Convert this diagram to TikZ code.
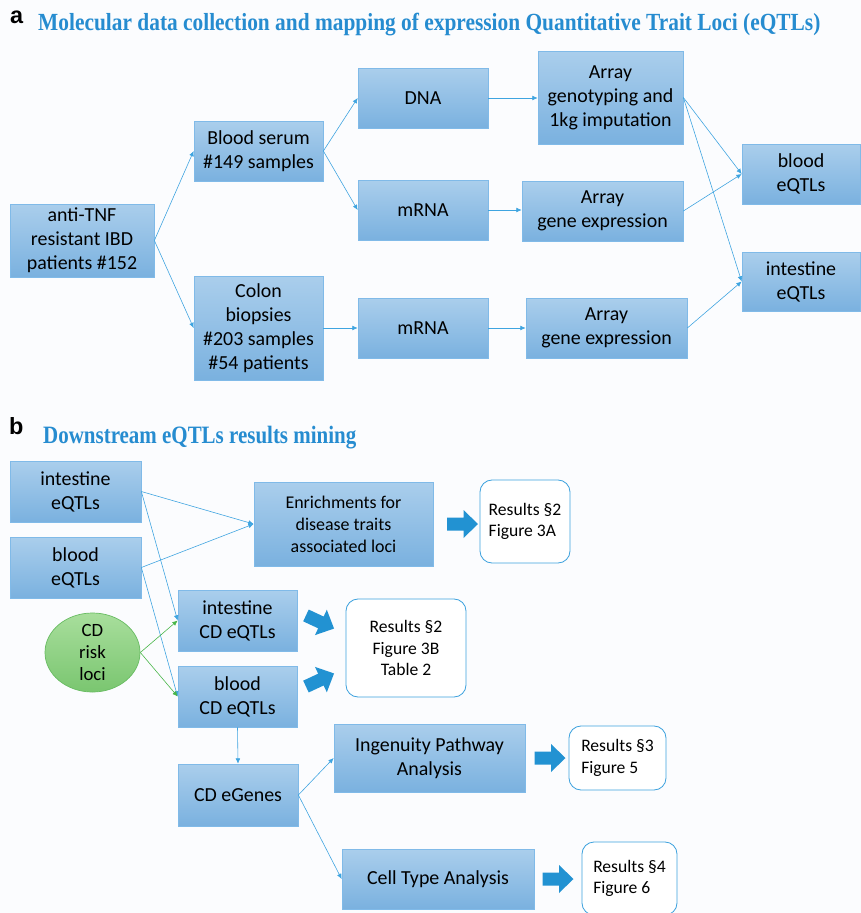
\documentclass[tikz,border=0pt]{standalone}
\usepackage{fontspec}
\setmainfont{Carlito}
\newfontfamily\titlefont{Liberation Serif}
\newfontfamily\labelfont{Liberation Sans}
\usetikzlibrary{arrows.meta,shapes.geometric,positioning}

\definecolor{paper}{RGB}{251,252,254}
\definecolor{boxtop}{RGB}{170,206,236}
\definecolor{boxbot}{RGB}{122,177,223}
\definecolor{boxline}{RGB}{128,186,232}
\definecolor{linkblue}{RGB}{62,164,224}
\definecolor{fatblue}{RGB}{34,146,210}
\definecolor{titleblue}{RGB}{38,140,208}
\definecolor{resline}{RGB}{62,162,222}
\definecolor{locitop}{RGB}{168,222,156}
\definecolor{locibot}{RGB}{122,198,112}
\definecolor{lociline}{RGB}{104,188,98}
\definecolor{linkgreen}{RGB}{72,182,72}

\tikzset{
  box/.style={draw=boxline, line width=0.6pt, top color=boxtop, bottom color=boxbot,
    align=center, inner sep=0pt, font=\fontsize{17}{20.5}\selectfont},
  sz/.style 2 args={minimum width=#1*0.03cm, minimum height=#2*0.03cm},
  result/.style={draw=resline, line width=0.7pt, fill=white, rounded corners=0.36cm,
    align=left, inner sep=0pt, font=\fontsize{15}{18.6}\selectfont},
  loci/.style={ellipse, draw=lociline, line width=0.6pt, top color=locitop, bottom color=locibot,
    align=center, inner sep=0pt, font=\fontsize{16}{18.6}\selectfont},
  link/.style={draw=linkblue, line width=0.5pt, -{Latex[length=4.5pt,width=4pt]}},
  greenlink/.style={link, draw=linkgreen},
  heading/.style={anchor=base west, inner sep=0pt, text=titleblue},
  panel/.style={anchor=base west, inner sep=0pt, font=\labelfont\bfseries\fontsize{20}{20}\selectfont},
  fatarrow/.pic={\fill[fatblue] (-15.5,-6.5) -- (1,-6.5) -- (1,-14) -- (15.5,0)
    -- (1,14) -- (1,6.5) -- (-15.5,6.5) -- cycle;}
}

\begin{document}
\begin{tikzpicture}[x=0.03cm, y=-0.03cm]
  \useasboundingbox (0,0) rectangle (861,913);
  \fill[paper] (0,0) rectangle (861,913);

  % panel a
  \node[panel] (labelA) at (10,23) {a};
  \node[heading] (titleA) at (38,30.7) {\resizebox{23.46cm}{0.52cm}{\titlefont\bfseries Molecular data collection and mapping of expression Quantitative Trait Loci (eQTLs)}};

  \node[box, sz={144}{73}] (patients) at (82,240.5) {anti-TNF\\resistant IBD\\patients \#152};
  \node[box, sz={129}{60}] (serum) at (258.5,151) {Blood serum\\\#149 samples};
  \node[box, sz={129}{104}] (colon) at (258.5,328) {Colon\\biopsies\\\#203 samples\\\#54 patients};
  \node[box, sz={130}{60}] (dna) at (423,98) {DNA};
  \node[box, sz={130}{60}] (mrnaA) at (423,210) {mRNA};
  \node[box, sz={130}{60}] (mrnaB) at (423,328) {mRNA};
  \node[box, sz={145}{93}] (geno) at (610.5,97.5) {Array\\genotyping and\\1kg imputation};
  \node[box, sz={161}{60}] (exprA) at (602.5,211) {Array\\gene expression};
  \node[box, sz={161}{60}] (exprB) at (606.5,328) {Array\\gene expression};
  \node[box, sz={118}{60}] (bloodA) at (801,174) {blood\\eQTLs};
  \node[box, sz={118}{59}] (intA) at (801,281.5) {intestine\\eQTLs};

  \draw[link] (patients.east) -- (serum.west);
  \draw[link] (patients.east) -- (colon.west);
  \draw[link] (serum.east) -- (dna.west);
  \draw[link] (serum.east) -- (mrnaA.west);
  \draw[link] (colon.east) -- (mrnaB.west);
  \draw[link] (dna.east) -- (geno.west |- dna.east);
  \draw[link] (mrnaA.east) -- (exprA.west |- mrnaA.east);
  \draw[link] (mrnaB.east) -- (exprB.west);
  \draw[link] (geno.east) -- (bloodA.west);
  \draw[link] (geno.east) -- (intA.west);
  \draw[link] (exprA.east) -- (bloodA.west);
  \draw[link] (exprB.east) -- (intA.west);

  % panel b
  \node[panel] (labelB) at (9,434) {b};
  \node[heading] (titleB) at (43,443) {\resizebox{9.39cm}{0.52cm}{\titlefont\bfseries Downstream eQTLs results mining}};

  \node[box, sz={131}{61}] (intB) at (75.5,491.5) {intestine\\eQTLs};
  \node[box, sz={131}{61}] (bloodB) at (75.5,567.5) {blood\\eQTLs};
  \node[box, sz={179}{84}, font=\fontsize{15.3}{18.8}\selectfont] (enrich) at (343.5,524) {Enrichments for\\disease traits\\associated loci};
  \node[result, sz={90}{83}] (resA) at (525,521.5) {Results §2\\Figure 3A};
  \node[box, sz={119}{61}] (intCD) at (237.5,620.5) {intestine\\CD eQTLs};
  \node[box, sz={119}{61}] (bloodCD) at (237.5,696.5) {blood\\CD eQTLs};
  \node[loci, sz={95}{65}] (risk) at (92.5,652.5) {CD\\risk\\loci};
  \node[result, sz={120}{98}, align=center] (resB) at (406,648) {Results §2\\Figure 3B\\Table 2};
  \node[box, sz={120}{62}] (egenes) at (238,795) {CD eGenes};
  \node[box, sz={191}{68}] (ipa) at (429.5,758) {Ingenuity Pathway\\Analysis};
  \node[result, sz={97}{64}] (resC) at (617.5,758) {Results §3\\Figure 5};
  \node[box, sz={192}{60}] (cell) at (438,879) {Cell Type Analysis};
  \node[result, sz={95}{73}] (resD) at (629.5,878.5) {Results §4\\Figure 6};

  \draw[link] (intB.east) -- (enrich.west);
  \draw[link] (bloodB.east) -- (enrich.west);
  \draw[link] (intB.east) -- (intCD.west);
  \draw[link] (bloodB.east) -- (bloodCD.west);
  \draw[greenlink] (risk.east) -- (intCD.west);
  \draw[greenlink] (risk.east) -- (bloodCD.west);
  \draw[link] (bloodCD.south) -- (egenes.north);
  \draw[link] (egenes.east) -- (ipa.west);
  \draw[link] (egenes.east) -- (cell.west);

  \pic at (462.5,524) {fatarrow};
  \pic[rotate=-25] at (320,622) {fatarrow};
  \pic[rotate=25] at (320,680) {fatarrow};
  \pic at (550,758) {fatarrow};
  \pic at (558,879) {fatarrow};
\end{tikzpicture}
\end{document}
